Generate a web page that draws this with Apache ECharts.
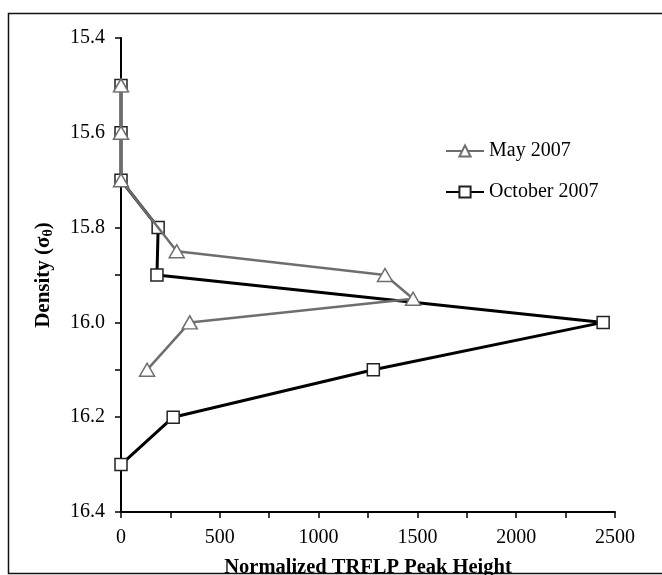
<!DOCTYPE html>
<html><head><meta charset="utf-8">
<script src="https://cdn.jsdelivr.net/npm/echarts@6/dist/echarts.min.js"></script>
<style>html,body{margin:0;padding:0;background:#fff}#c{width:662px;height:575px}</style>
</head><body><div id="c"></div>
<script>
// Data
const densityMay = [15.5, 15.6, 15.7, 15.85, 15.9, 15.95, 16.0, 16.1];
const peakMay = [0, 0, 0, 282, 1336, 1478, 348, 132];
const densityOct = [15.5, 15.6, 15.7, 15.8, 15.9, 16.0, 16.1, 16.2, 16.3];
const peakOct = [0, 0, 0, 188, 182, 2440, 1277, 264, 0];
const seriesNames = ['May 2007', 'October 2007'];

const font = '"Liberation Serif", "DejaVu Serif", serif';
const chart = echarts.init(document.getElementById('c'));
chart.setOption({
  backgroundColor: '#fff',
  animation: false,
  grid: {left: 121, right: 47, top: 38, bottom: 63, containLabel: false, outerBoundsMode: 'none'},
  legend: {
    orient: 'vertical', left: 440, top: 136, itemWidth: 38, itemHeight: 14, itemGap: 21,
    textStyle: {fontFamily: font, fontSize: 20, color: '#000'},
    data: seriesNames
  },
  xAxis: {
    type: 'value', min: 0, max: 2500, interval: 500,
    name: 'Normalized TRFLP Peak Height', nameLocation: 'middle', nameGap: 45,
    nameTextStyle: {fontFamily: font, fontSize: 20.5, fontWeight: 'bold', color: '#000'},
    axisLine: {show: true, lineStyle: {color: '#000', width: 2}},
    axisTick: {show: true, length: 6, lineStyle: {color: '#000', width: 1.5}},
    minorTick: {show: true, splitNumber: 2, length: 6, lineStyle: {color: '#000', width: 1.5}},
    axisLabel: {fontFamily: font, fontSize: 20, color: '#000', margin: 16,
      formatter: v => String(v)},
    splitLine: {show: false}
  },
  yAxis: {
    type: 'value', inverse: true, min: 15.4, max: 16.4, interval: 0.2,
    name: '{b|Density (σ}{s|θ}{b|)}', nameLocation: 'middle', nameGap: 66,
    nameTextStyle: {
      rich: {
        b: {fontFamily: font, fontSize: 21, fontWeight: 'bold', color: '#000'},
        s: {fontFamily: font, fontSize: 14, fontWeight: 'bold', color: '#000', verticalAlign: 'bottom', padding: [9, 0, 0, 0]}
      }
    },
    axisLine: {show: true, onZero: false, lineStyle: {color: '#000', width: 2}},
    axisTick: {show: true, length: 6, lineStyle: {color: '#000', width: 1.5}},
    minorTick: {show: true, splitNumber: 2, length: 6, lineStyle: {color: '#000', width: 1.5}},
    axisLabel: {fontFamily: font, fontSize: 20, color: '#000', margin: 16,
      formatter: v => v.toFixed(1)},
    splitLine: {show: false}
  },
  series: [
    {
      name: seriesNames[0], type: 'line', z: 3,
      data: peakMay.map((v, i) => [v, densityMay[i]]),
      symbol: 'triangle', symbolSize: [15, 13],
      lineStyle: {color: '#6e6e6e', width: 2.5},
      itemStyle: {color: '#fff', borderColor: '#6e6e6e', borderWidth: 1.5}
    },
    {
      name: seriesNames[1], type: 'line', z: 2,
      data: peakOct.map((v, i) => [v, densityOct[i]]),
      symbol: 'rect', symbolSize: 12,
      lineStyle: {color: '#000', width: 3},
      itemStyle: {color: '#fff', borderColor: '#222', borderWidth: 1.5}
    }
  ],
  graphic: [{
    type: 'rect', shape: {x: 8.5, y: 13.5, width: 700, height: 560},
    style: {fill: 'none', stroke: '#111', lineWidth: 1.5}, silent: true
  }]
});
</script></body></html>
